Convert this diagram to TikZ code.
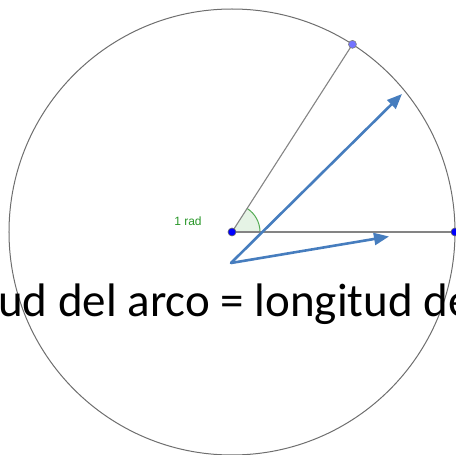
\documentclass[tikz,border=0pt]{standalone}
\usepackage{fontspec}
\setmainfont{Carlito}
\newfontfamily\labelfont{Liberation Sans}
\usetikzlibrary{arrows.meta}
\definecolor{rimgray}{RGB}{110,110,110}
\definecolor{vecblue}{RGB}{70,125,190}
\definecolor{anggreen}{RGB}{40,150,40}
\begin{document}
\begin{tikzpicture}[line cap=round,line join=round,x=1pt,y=1pt,
    rim/.style={line width=1pt,draw=rimgray},
    radius line/.style={line width=1.1pt,draw=rimgray!85},
    vec/.style={line width=2.6pt,draw=vecblue,-{Triangle[length=15pt,width=12pt]}},
    dot/.style={circle,inner sep=0pt,minimum size=8pt,fill=blue,draw=black!60,line width=0.6pt},
    pale dot/.style={dot,fill=blue!55,draw=gray}]
  \useasboundingbox (-232,-223) rectangle (224,232);
  \clip (-232,-223) rectangle (224,232);
  \coordinate (O) at (0,0);
  \coordinate (S) at (-1,-31);
  \coordinate (T1) at (157,-4.5);
  \coordinate (T2) at (170,138);
  % circle and radii
  \draw [rim] (O) circle (223);
  \fill [anggreen!12] (O) -- (0:28) arc (0:57.3:28) -- cycle;
  \draw [anggreen!80,line width=1pt] (0:28) arc (0:57.3:28);
  \draw [radius line] (O) -- (57.3:223);
  \draw [radius line] (O) -- (223,0);
  % vectors
  \draw [vec] (S) -- (T1);
  \draw [vec] (S) -- (T2);
  % points
  \node [dot] (C) at (O) {};
  \node [dot] (Q) at (223,0) {};
  \node [pale dot] (P) at (57.3:223) {};
  \node [text=anggreen,font=\labelfont\fontsize{12}{14}\selectfont] (lab) at (-44,11) {1 rad};
  \node [anchor=base west,inner sep=0pt,font=\fontsize{47}{56}\selectfont] (txt) at (-234,-85)
    {\llap{Longit}ud del arco = longitud del radio};
\end{tikzpicture}
\end{document}
